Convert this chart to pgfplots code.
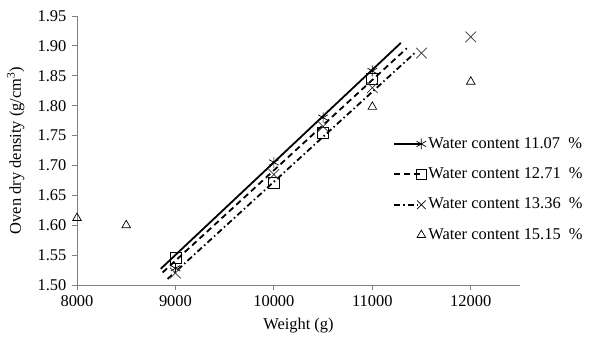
\documentclass[border=0pt]{standalone}
\usepackage{fontspec}
\setmainfont{Liberation Serif}
\usepackage{pgfplots}
\pgfplotsset{compat=1.18}
\begin{document}
\fontsize{16.5}{19}\selectfont
\begin{tikzpicture}
\begin{axis}[name=ax, scale only axis, width=443bp, height=269bp,
  xmin=8000, xmax=12500, ymin=1.5, ymax=1.95,
  axis x line*=bottom, axis y line*=left,
  axis line style={draw=black!50, line width=0.8bp},
  tick style={draw=black!50, line width=0.8bp},
  tick align=outside, major tick length=5bp,
  xtick={8000,9000,10000,11000,12000},
  ytick={1.50,1.55,1.60,1.65,1.70,1.75,1.80,1.85,1.90,1.95},
  scaled x ticks=false,
  xticklabel style={/pgf/number format/1000 sep={}},
  yticklabel style={/pgf/number format/.cd, fixed, fixed zerofill, precision=2},
  /pgf/number format/assume math mode=true,
  xlabel={Weight (g)},
  ylabel={Oven dry density (g/cm\textsuperscript{3})},
  ylabel style={yshift=2bp},
  legend cell align=left,
  legend style={draw=none, fill=none, at={(0.714,0.355)}, anchor=west, row sep=13bp, inner sep=0pt, font=\fontsize{16.5}{19}\selectfont},
  legend image code/.code={\draw[mark repeat=2,mark phase=2,#1] plot coordinates {(0cm,0cm) (0.95cm,0cm)};},
]
% legend entries
\addlegendimage{black, line width=1.8bp, mark=asterisk, mark size=5.5bp, mark options={solid, line width=0.7bp}}
\addlegendentry{Water content 11.07\ \ \%}
\addlegendimage{black, line width=1.8bp, dash pattern=on 6bp off 4bp, mark=square, mark size=5bp, mark options={solid, line width=0.7bp}}
\addlegendentry{Water content 12.71\ \ \%}
\addlegendimage{black, line width=1.8bp, dash pattern=on 6bp off 3bp on 1.5bp off 3bp, mark=x, mark size=6bp, mark options={solid, line width=0.7bp}}
\addlegendentry{Water content 13.36\ \ \%}
\addlegendimage{black, only marks, mark=triangle, mark size=5bp, mark options={line width=0.7bp}}
\addlegendentry{Water content 15.15\ \ \%}

% trend lines
\addplot[forget plot, black, line width=1.8bp] coordinates {(8850,1.527) (11290,1.905)};
\addplot[forget plot, black, line width=1.8bp, dash pattern=on 6bp off 4bp] coordinates {(8870,1.521) (11350,1.896)};
\addplot[forget plot, black, line width=1.8bp, dash pattern=on 6bp off 3bp on 1.5bp off 3bp] coordinates {(8920,1.510) (11430,1.888)};

% data points
\addplot[forget plot, only marks, black, mark=asterisk, mark size=5.5bp, mark options={line width=0.7bp}] coordinates {
(9000,1.528) (10000,1.705) (10500,1.780) (11000,1.858)};
\addplot[forget plot, only marks, black, mark=square, mark size=5.5bp, mark options={line width=0.8bp}] coordinates {
(9000,1.545) (10000,1.670) (10500,1.755) (11000,1.845)};
\addplot[forget plot, only marks, black!80, mark=x, mark size=7.5bp, mark options={line width=0.7bp}] coordinates {
(9000,1.520) (10000,1.685) (10500,1.765) (11000,1.830) (11500,1.888) (12000,1.915)};
\addplot[forget plot, only marks, black, mark=triangle, mark size=5bp, mark options={line width=0.7bp}] coordinates {
(8000,1.612) (8500,1.600) (11000,1.798) (12000,1.840)};
\end{axis}
\pgfresetboundingbox
\path[use as bounding box] ([shift={(-77bp,-57bp)}]ax.south west) rectangle ++(606bp,342bp);
\end{tikzpicture}
\end{document}
